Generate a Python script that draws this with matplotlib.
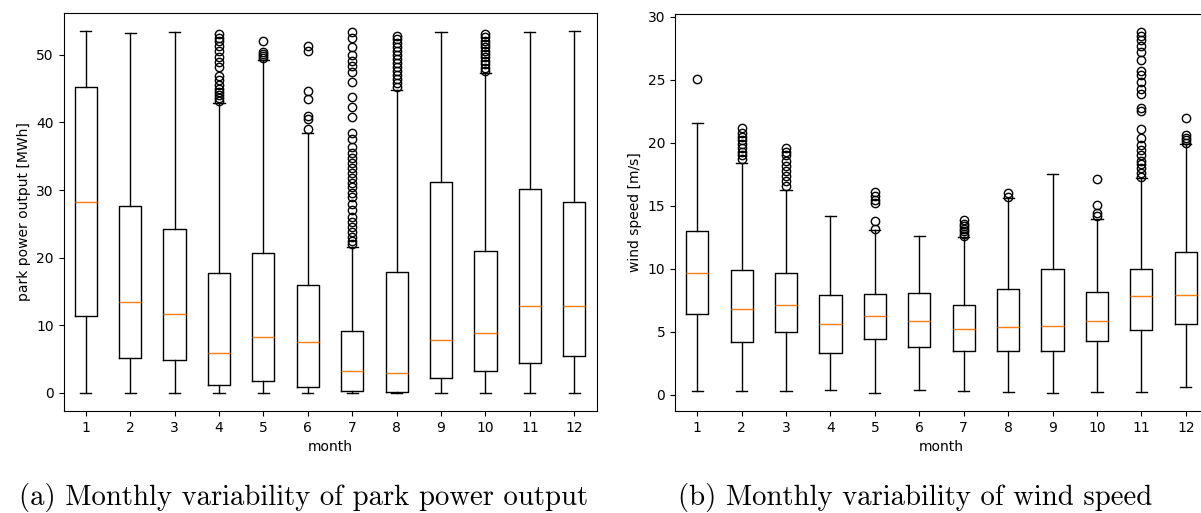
import matplotlib
matplotlib.use("Agg")
import matplotlib.pyplot as plt

# ---- data ------------------------------------------------------------------
months = list(range(1, 13))

# park power output [MWh]
pow_med = [28.2, 13.5, 11.6, 5.9, 8.3, 7.6, 3.3, 3.0, 7.8, 8.8, 12.9, 12.9]
pow_q1 = [11.3, 5.2, 4.9, 1.1, 1.8, 0.8, 0.3, 0.1, 2.2, 3.3, 4.4, 5.5]
pow_q3 = [45.3, 27.7, 24.3, 17.8, 20.7, 15.9, 9.1, 17.9, 31.2, 21.0, 30.1, 28.2]
pow_lo = [0.0] * 12
pow_hi = [53.5, 53.2, 53.3, 42.9, 49.2, 38.4, 21.6, 44.8, 53.3, 47.3, 53.3, 53.5]
pow_fliers = [
    [], [], [],
    [43.2, 43.6, 44.0, 44.5, 45.0, 45.5, 46.2, 46.8, 48.2, 49.0, 49.6, 50.6,
     51.3, 52.0, 52.5, 53.0],
    [49.5, 49.8, 50.1, 50.4, 52.0],
    [39.0, 40.5, 41.0, 43.5, 44.7, 50.5, 51.3],
    [22.0, 22.5, 23.0, 23.8, 24.5, 25.2, 26.0, 27.0, 28.0, 29.0, 29.6, 30.4,
     31.0, 31.8, 32.5, 33.3, 34.0, 34.8, 35.5, 36.3, 37.5, 38.5, 40.8, 42.3,
     43.8, 46.0, 47.5, 48.3, 49.1, 50.0, 51.2, 52.5, 53.3],
    [45.3, 45.8, 46.4, 47.0, 47.6, 48.2, 48.8, 49.4, 50.0, 50.6, 51.2, 51.8,
     52.3, 52.8],
    [],
    [47.6, 48.1, 48.6, 49.1, 49.6, 50.1, 50.6, 51.1, 51.6, 52.1, 52.6, 53.0],
    [], [],
]

# wind speed [m/s]
ws_med = [9.65, 6.8, 7.1, 5.6, 6.25, 5.9, 5.2, 5.4, 5.5, 5.85, 7.85, 7.95]
ws_q1 = [6.4, 4.2, 5.0, 3.3, 4.4, 3.8, 3.5, 3.45, 3.45, 4.3, 5.15, 5.6]
ws_q3 = [13.0, 9.9, 9.65, 7.9, 8.0, 8.1, 7.1, 8.4, 10.0, 8.2, 10.0, 11.35]
ws_lo = [0.3, 0.3, 0.3, 0.4, 0.15, 0.4, 0.3, 0.2, 0.15, 0.2, 0.2, 0.65]
ws_hi = [21.6, 18.4, 16.3, 14.2, 13.1, 12.6, 12.5, 15.65, 17.5, 13.95, 17.2, 19.9]
ws_fliers = [
    [25.1],
    [18.7, 19.0, 19.3, 19.6, 19.9, 20.2, 20.5, 20.8, 21.2],
    [16.6, 17.0, 17.4, 17.8, 18.2, 18.6, 19.0, 19.3, 19.6],
    [],
    [13.2, 13.8, 15.2, 15.5, 15.8, 16.1],
    [],
    [12.6, 12.8, 13.0, 13.2, 13.4, 13.6, 13.9],
    [15.7, 16.0],
    [],
    [14.2, 14.4, 15.1, 17.1],
    [17.3, 17.6, 18.0, 18.3, 18.6, 19.0, 19.4, 19.8, 20.4, 21.1, 22.5, 22.8,
     23.9, 24.3, 24.8, 25.4, 25.7, 26.6, 27.2, 27.7, 28.2, 28.5, 28.8],
    [20.0, 20.2, 20.4, 20.6, 22.0],
]


def make_stats(med, q1, q3, lo, hi, fliers):
    return [dict(med=m, q1=a, q3=b, whislo=l, whishi=h, fliers=f, label=str(mo))
            for m, a, b, l, h, f, mo in zip(med, q1, q3, lo, hi, fliers, months)]


fig = plt.figure(figsize=(12.01, 5.13), dpi=100)
ax1 = fig.add_axes([63.5 / 1201, 1 - 411 / 513, 533 / 1201, 398 / 513])
ax2 = fig.add_axes([675 / 1201, 1 - 411 / 513, 533 / 1201, 397 / 513])

ax1.bxp(make_stats(pow_med, pow_q1, pow_q3, pow_lo, pow_hi, pow_fliers))
ax1.set_xlabel("month")
ax1.set_ylabel("park power output [MWh]")

ax2.bxp(make_stats(ws_med, ws_q1, ws_q3, ws_lo, ws_hi, ws_fliers))
ax2.set_xlabel("month")
ax2.set_ylabel("wind speed [m/s]")
ax2.set_yticks([0, 5, 10, 15, 20, 25, 30])

# sub-figure captions (LaTeX-like serif)
cap = dict(family="cmr10", fontsize=20.7, va="baseline", ha="center")
fig.text(303.5 / 1201, 1 - 505 / 513, "(a) Monthly variability of park power output", **cap)
fig.text(915.5 / 1201, 1 - 505 / 513, "(b) Monthly variability of wind speed", **cap)

fig.savefig("out.png", dpi=100)
